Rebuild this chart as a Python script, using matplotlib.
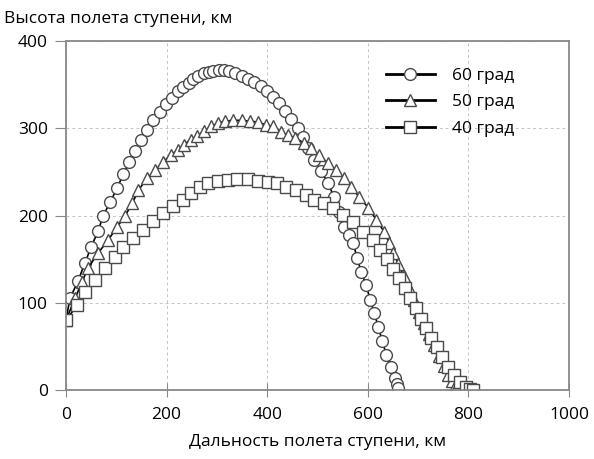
import numpy as np
import matplotlib
matplotlib.use("Agg")
import matplotlib.pyplot as plt

plt.rcParams['font.family'] = ['Open Sans', 'DejaVu Sans']

# 60 grad trajectory (circles)
x60 = [0, 8, 24, 38, 50, 64, 74, 88, 102, 114, 126, 138, 150, 162, 174, 186, 198, 210,
       222, 232, 244, 253, 263, 275, 284, 293, 305, 315, 325, 337, 349, 361, 373, 387,
       399, 411, 423, 435, 447, 461, 471, 481, 493, 507, 521, 533, 543, 553, 562, 571,
       579, 587, 597, 605, 613, 621, 629, 637, 647, 655, 659, 661]
y60 = [80, 105, 125, 146, 164, 182, 200, 215, 232, 247, 261, 274, 287, 298, 309, 319, 328, 335,
       342, 347, 352, 356, 360, 363, 364, 365, 367, 367, 366, 363, 360, 356, 353, 348,
       343, 336, 329, 320, 311, 300, 290, 277, 264, 251, 237, 221, 204, 187, 178, 168,
       151, 135, 120, 103, 88, 72, 56, 40, 26, 14, 7, 2]

# 50 grad trajectory (triangles)
x50 = [0, 18, 32, 44, 64, 84, 102, 118, 132, 144, 162, 178, 192, 208, 222, 234, 248, 261,
       275, 289, 303, 317, 333, 349, 365, 381, 397, 411, 427, 441, 455, 473, 487, 503,
       521, 537, 553, 567, 583, 601, 617, 633, 643, 651, 661, 671, 681, 691, 701, 711,
       721, 731, 741, 751, 760, 768, 774, 776]
y50 = [80, 105, 124, 140, 157, 172, 187, 200, 214, 229, 243, 252, 261, 269, 275, 281, 287, 291,
       297, 302, 306, 308, 309, 309, 308, 307, 304, 302, 296, 292, 289, 283, 277, 269,
       260, 252, 243, 233, 221, 209, 195, 181, 168, 157, 144, 131, 117, 103, 89, 77,
       64, 52, 39, 28, 17, 10, 5, 2]

# 40 grad trajectory (squares)
x40 = [0, 22, 38, 58, 78, 98, 114, 134, 154, 174, 192, 212, 232, 248, 267, 283, 303, 323,
       341, 361, 381, 401, 419, 437, 457, 477, 493, 513, 531, 551, 571, 591, 611, 625,
       638, 650, 662, 673, 684, 695, 705, 716, 726, 737, 748, 760, 772, 784, 795, 804, 810]
y40 = [80, 97, 112, 126, 140, 153, 164, 174, 183, 194, 203, 211, 218, 226, 233, 237, 240, 241,
       242, 242, 240, 238, 237, 233, 229, 223, 218, 214, 209, 201, 193, 181, 172, 160,
       150, 139, 128, 117, 105, 94, 82, 71, 60, 49, 38, 27, 17, 9, 4, 1, 0]

fig = plt.figure(figsize=(5.94, 4.59), dpi=100)
ax = fig.add_axes([0.111, 0.150, 0.847, 0.761])

style = dict(color='black', lw=1.2, ms=8.5, mfc='white', mec='#4a4a4a', mew=1.0)
ax.plot(x60, y60, marker='o', label='60 град', **style)
ax.plot(x50, y50, marker='^', label='50 град', **style)
ax.plot(x40, y40, marker='s', label='40 град', **style)

ax.set_xlim(0, 1000)
ax.set_ylim(0, 400)
ax.set_xticks([0, 200, 400, 600, 800, 1000])
ax.set_yticks([0, 100, 200, 300, 400])
ax.grid(True, color='#c4c4c4', ls=(0, (3, 3)), lw=0.7)
ax.set_axisbelow(True)
for s in ax.spines.values():
    s.set_color('#888888')
    s.set_linewidth(1.3)
ax.tick_params(axis='y', direction='out', length=8, color='#888888', labelsize=12.5, pad=5)
ax.tick_params(axis='x', direction='inout', length=10, color='#888888', labelsize=12.5, pad=7)

ax.set_xlabel('Дальность полета ступени, км', fontsize=12.5, labelpad=8)
fig.text(0.007, 0.958, 'Высота полета ступени, км', fontsize=12.5, va='center', ha='left')

leg = ax.legend(loc='upper left', bbox_to_anchor=(0.605, 0.968), frameon=False,
                fontsize=12.5, handlelength=2.8, handletextpad=1.0, labelspacing=0.6)
for h in leg.legend_handles:
    h.set_linewidth(2.0)

fig.savefig('out.png', dpi=100)
